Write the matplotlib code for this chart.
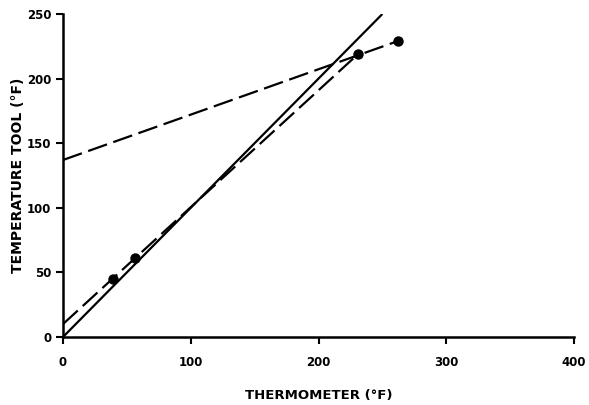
import matplotlib
matplotlib.use("Agg")
import matplotlib.pyplot as plt

# data
points_x = [39, 56, 231, 262]
points_y = [45, 61, 219, 229]
ideal_x = [0, 250]
ideal_y = [0, 250]
low_fit_x = [0, 231]
low_fit_y = [10, 219]
high_fit_x = [0, 262]
high_fit_y = [137, 229]
xticks = [0, 100, 200, 300, 400]
yticks = [0, 50, 100, 150, 200, 250]

fig = plt.figure(figsize=(5.89, 4.05), dpi=100)
ax = fig.add_axes([0.107, 0.168, 0.8675, 0.7974])

ax.plot(ideal_x, ideal_y, color="black", lw=1.6, solid_capstyle="butt")
ax.plot(low_fit_x, low_fit_y, color="black", lw=1.6, dashes=(9, 3))
ax.plot(high_fit_x, high_fit_y, color="black", lw=1.6, dashes=(9, 3))
ax.plot(points_x, points_y, "o", color="black", ms=6.5)

ax.set_xlim(0, 400)
ax.set_ylim(0, 250)
ax.set_xticks(xticks)
ax.set_yticks(yticks)
for s in ["top", "right"]:
    ax.spines[s].set_visible(False)
for s in ["left", "bottom"]:
    ax.spines[s].set_linewidth(1.8)
ax.tick_params(direction="out", length=5, width=1.5, labelsize=8.5)
ax.tick_params(axis="x", pad=9)
for lab in ax.get_xticklabels() + ax.get_yticklabels():
    lab.set_fontweight("bold")
ax.set_xlabel("THERMOMETER (°F)", fontsize=9.5, fontweight="bold", labelpad=14)
ax.set_ylabel("TEMPERATURE TOOL (°F)", fontsize=10, fontweight="bold", labelpad=1)

fig.savefig("out.png", dpi=100)
